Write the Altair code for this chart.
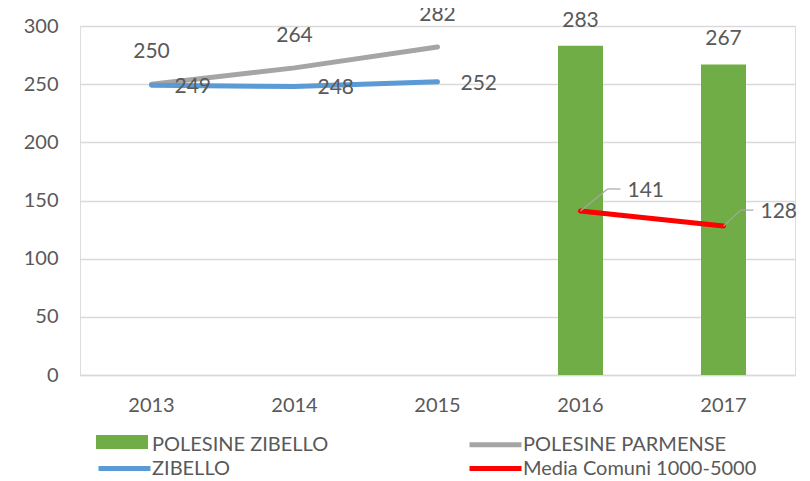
import altair as alt
import pandas as pd

years = ["2013", "2014", "2015", "2016", "2017"]
series_names = ["POLESINE ZIBELLO", "POLESINE PARMENSE", "ZIBELLO", "Media Comuni 1000-5000"]
series_colors = ["#70AD47", "#A5A5A5", "#5B9BD5", "#FF0000"]

bar_years = ["2016", "2017"]
polesine_zibello = [283, 267]

pp_years = ["2013", "2014", "2015"]
polesine_parmense = [250, 264, 282]

zib_years = ["2013", "2014", "2015"]
zibello = [249, 248, 252]

media_years = ["2016", "2017"]
media = [141, 128]

FONT = "Lato"
TXT = "#595959"
TICK_FS = 20
LBL_FS = 21

bars = pd.DataFrame({"year": bar_years, "value": polesine_zibello, "series": series_names[0]})
lines = pd.concat([
    pd.DataFrame({"year": pp_years, "value": polesine_parmense, "series": series_names[1], "o": 1}),
    pd.DataFrame({"year": zib_years, "value": zibello, "series": series_names[2], "o": 2}),
    pd.DataFrame({"year": media_years, "value": media, "series": series_names[3], "o": 3}),
], ignore_index=True)

x = alt.X("year:O", scale=alt.Scale(domain=years, paddingInner=0, paddingOuter=0),
          axis=alt.Axis(title=None, labelAngle=0, ticks=False, domain=True, domainColor="#D9D9D9",
                        domainWidth=1.5, labelPadding=20, labelFont=FONT, labelFontSize=TICK_FS,
                        labelColor=TXT))
y = alt.Y("value:Q", scale=alt.Scale(domain=[0, 300]),
          axis=alt.Axis(title=None, values=[0, 50, 100, 150, 200, 250, 300], ticks=False, domain=False,
                        gridColor="#D9D9D9", gridWidth=1.5, labelPadding=22, labelFont=FONT,
                        labelFontSize=TICK_FS, labelColor=TXT))

LEG_X, LEG_Y = 32, 406
common_leg = dict(title=None, orient="none", legendX=LEG_X, legendY=LEG_Y, direction="horizontal",
                  columns=2, columnPadding=130, rowPadding=1, symbolSize=400,
                  labelFont=FONT, labelFontSize=20, labelOffset=15, labelLimit=400)

stroke = alt.Stroke("series:N",
                    scale=alt.Scale(domain=series_names, range=["transparent"] + series_colors[1:]),
                    legend=alt.Legend(symbolType="M-2.6,0H2.6", symbolStrokeWidth=5, labelColor=TXT,
                                      **common_leg))
fill = alt.Fill("series:N", scale=alt.Scale(domain=series_names[:1], range=series_colors[:1]),
                legend=alt.Legend(symbolType="M-2.6,-0.7H2.6V0.7H-2.6Z", symbolStrokeWidth=0,
                                  symbolOpacity=1, labelColor="transparent", **common_leg))

bar_layer = alt.Chart(bars).mark_bar(size=45).encode(x=x, y=y, fill=fill)
bar_text = alt.Chart(bars).mark_text(dy=-25, font=FONT, fontSize=LBL_FS, color=TXT).encode(
    x=x, y=y, text="value:Q")

line_layer = alt.Chart(lines).mark_line(strokeWidth=5, strokeCap="round").encode(
    x=x, y=y, stroke=stroke, detail="series:N", order="o:Q")

pp_df = lines[lines.series == series_names[1]]
zb_df = lines[lines.series == series_names[2]]
md_df = lines[lines.series == series_names[3]]

pp_text = alt.Chart(pp_df).mark_text(dy=-32, font=FONT, fontSize=LBL_FS, color=TXT).encode(
    x=x, y=y, text="value:Q")
zb_text = alt.Chart(zb_df).mark_text(dx=23, dy=2, align="left", font=FONT, fontSize=LBL_FS,
                                     color=TXT).encode(x=x, y=y, text="value:Q")

lead = "#A6A6A6"
layers = [bar_layer, line_layer, bar_text, pp_text, zb_text]
for yr, ddx, ddy, hx, tdx in [("2016", 27, -22, 40, 47), ("2017", 17, -16, 30, 37)]:
    d = md_df[md_df.year == yr]
    layers.append(alt.Chart(d).mark_rule(color=lead, strokeWidth=1.2, x2Offset=ddx, y2Offset=ddy).encode(
        x=x, y=y, x2="year:O", y2="value:Q"))
    layers.append(alt.Chart(d).mark_rule(color=lead, strokeWidth=1.2, xOffset=ddx, yOffset=ddy,
                                         x2Offset=hx, y2Offset=ddy).encode(
        x=x, y=y, x2="year:O", y2="value:Q"))
    layers.append(alt.Chart(d).mark_text(align="left", dx=tdx, dy=ddy + 2, font=FONT, fontSize=LBL_FS,
                                         color=TXT).encode(x=x, y=y, text="value:Q"))

chart = alt.layer(*layers).properties(
    width=715, height=349,
    autosize=alt.AutoSizeParams(type="none"),
    padding={"left": 72, "top": 18, "right": 7, "bottom": 106},
).resolve_scale(fill="independent", stroke="independent").configure_view(stroke=None).configure(background="white")

chart.save("out.html", embed_options={"renderer": "svg", "actions": False})
